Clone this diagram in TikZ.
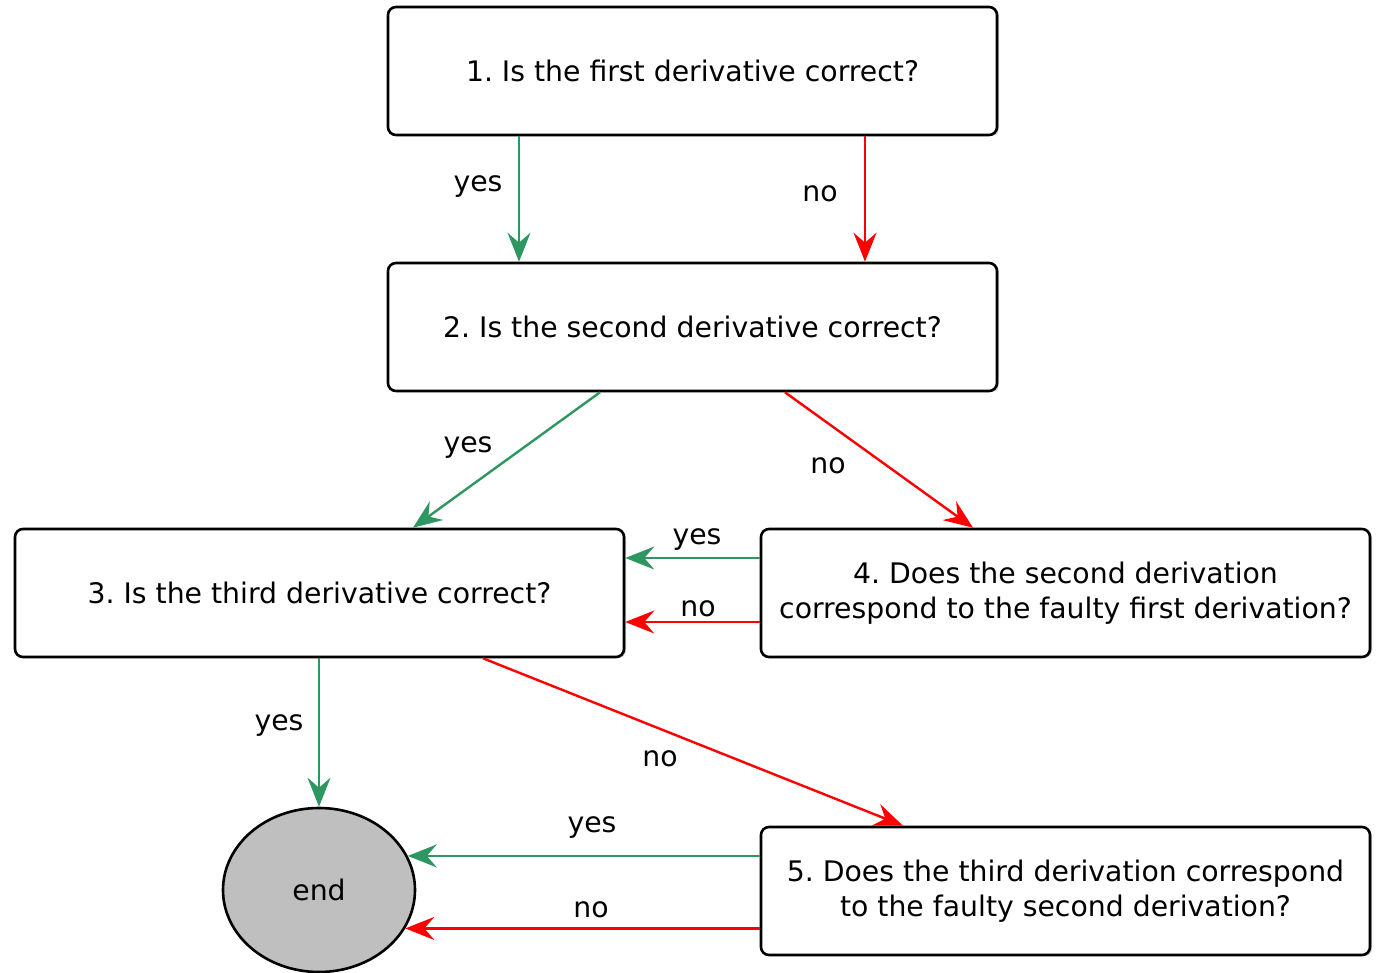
\documentclass[tikz,border=0pt]{standalone}
\usepackage{fontspec}
\setmainfont{DejaVu Sans}
\usetikzlibrary{shapes.geometric,arrows.meta,shadows}
\definecolor{yesgreen}{RGB}{46,150,96}
\definecolor{nored}{RGB}{255,0,0}
\frenchspacing
\begin{document}
\begin{tikzpicture}[x=1pt,y=-1pt,
  question/.style={draw=black,line width=2.6pt,rounded corners=8pt,fill=white,
    minimum width=609pt,minimum height=128pt,align=center,inner sep=0pt,
    font=\fontsize{28.3}{35}\selectfont,
    drop shadow={shadow xshift=2pt,shadow yshift=-1pt,opacity=0.35,fill=black!60}},
  endnode/.style={ellipse,draw=black,line width=2.6pt,fill=black!25,
    minimum width=192pt,minimum height=164pt,inner sep=0pt,
    font=\fontsize{28.3}{34}\selectfont},
  tip/.style={-{Stealth[length=29pt,width=23pt,inset=10pt]}},
  yesarrow/.style={draw=yesgreen,line width=2.4pt,tip},
  noarrow/.style={draw=nored,line width=2.4pt,tip},
  lbl/.style={font=\fontsize{28.3}{34}\selectfont,inner sep=0pt}]
\useasboundingbox (0,0) rectangle (1381,973);

% decision boxes
\node[question] (b1) at (692.5,71) {1. Is the first derivative correct?};
\node[question] (b2) at (692.5,327) {2. Is the second derivative correct?};
\node[question] (b3) at (319.5,593) {3. Is the third derivative correct?};
\node[question] (b4) at (1065.5,593) {4. Does the second derivation\\correspond to the faulty first derivation?};
\node[question] (b5) at (1065.5,891) {5. Does the third derivation correspond\\to the faulty second derivation?};
\node[endnode] (end) at (319,890) {end};

% step 1 -> step 2
\draw[yesarrow] ([xshift=-173.5pt]b1.south) -- ([xshift=-173.5pt]b2.north);
\draw[noarrow] ([xshift=172.5pt]b1.south) -- ([xshift=172.5pt]b2.north);
\node[lbl] (l1y) at (478,187) {yes};
\node[lbl] (l1n) at (820,194) {no};

% step 2 -> step 3 / step 4
\draw[yesarrow] ([xshift=-92.5pt]b2.south) -- ([xshift=93.5pt]b3.north);
\draw[noarrow] ([xshift=92.5pt]b2.south) -- ([xshift=-92.5pt]b4.north);
\node[lbl] (l2y) at (468,448) {yes};
\node[lbl] (l2n) at (828,466) {no};

% step 4 -> step 3
\draw[yesarrow] ([yshift=35pt]b4.west) -- ([yshift=35pt]b4.west -| b3.east);
\draw[noarrow] ([yshift=-29pt]b4.west) -- ([yshift=-29pt]b4.west -| b3.east);
\node[lbl] (l4y) at (697,540) {yes};
\node[lbl] (l4n) at (698,609) {no};

% step 3 -> end / step 5
\draw[yesarrow] (end.north |- b3.south) -- (end.north);
\draw[noarrow] ([xshift=163.5pt]b3.south) -- ([xshift=-162.5pt]b5.north);
\node[lbl] (l3y) at (279,726) {yes};
\node[lbl] (l3n) at (660,759) {no};

% step 5 -> end
\draw[yesarrow] (b5.west |- end.21) -- (end.21);
\draw[noarrow] (b5.west |- end.-24) -- (end.-24);
\node[lbl] (l5y) at (592,828) {yes};
\node[lbl] (l5n) at (591,910) {no};
\end{tikzpicture}
\end{document}
